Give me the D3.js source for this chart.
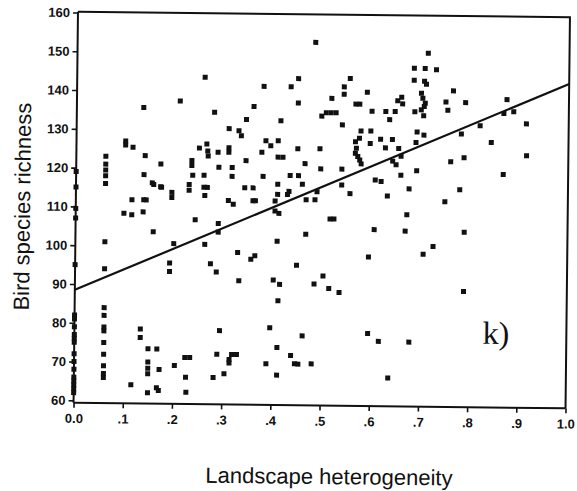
<!DOCTYPE html>
<html>
<head>
<meta charset="utf-8">
<script src="https://cdn.jsdelivr.net/npm/d3@7"></script>
<style>
  body { margin: 0; background: #fff; }
  svg { display: block; }
</style>
</head>
<body>
<svg id="chart" width="577" height="491"></svg>
<script>
// Landscape heterogeneity (x) and bird species richness (y) per site
const heterogeneity = [
  0,0,0,0,0,0,0,0,0,0,0,0,0,0,0,0,0,0,0,
  0.06,0.06,0.06,0.06,0.06,0.06,0.06,0.06,0.06,0.06,0.06,0.06,0.06,0.06,0.06,0.06,
  0.10,0.10,0.115,0.136,0.14,0.138,0.155,0.172,0.172,0.195,0.195,0.21,0.235,0.235,0.237,0.23,0.23,0.25,0.26,0.265,
  0.267,0.268,0.26,0.26,0.267,0.28,0.288,0.29,0.31,0.31,0.31,0.317,0.317,0.33,0.335,0.345,0.345,0.343,0.36,0.36,
  0.38,0.38,0.377,0.385,0.395,0.41,0.415,0.41,0.42,0.41,0.41,0.43,0.435,0.45,0.45,0.45,
  0.484,0.495,0.465,0.497,0.435,0.452,0.46,0.433,0.49,0.468,0.486,0.54,0.54,0.557,0.608,0.62,0.633,0.498,0.507,0.517,
  0.527,0.518,0.543,0.543,0.555,0.54,0.567,0.575,0.59,0.6,0.578,0.598,0.575,0.567,0.569,0.567,0.572,0.576,0.579,0.597,
  0.618,0.628,0.642,0.655,0.628,0.647,0.636,0.652,0.66,0.662,0.643,0.65,0.66,0.66,0.685,0.707,0.685,0.706,0.71,0.70,
  0.703,0.708,0.706,0.70,0.687,0.705,0.692,0.706,0.69,0.713,0.73,0.765,0.75,0.754,0.79,0.782,0.82,0.843,0.761,0.788,
  0.874,0.868,0.888,0.914,0.915,0.868,0.78,0.692,0.677,
  0.114,0.138,0.143,0.098,0.114,0.137,0.158,0.174,0.262,0.243,0.158,0.2,0.192,0.192,0.263,0.275,0.287,0.29,0.29,0.31,
  0.32,0.36,0.365,0.333,0.33,0.357,0.365,0.405,0.405,0.413,0.41,0.403,0.416,0.413,0.45,0.397,0.412,0.412,0.44,0.448,
  0.39,0.33,0.315,0.315,0.32,0.29,0.295,0.305,0.283,0.225,0.235,0.227,0.228,0.204,0.173,0.15,0.15,0.15,0.15,0.168,
  0.134,0.134,0.116,0.15,0.168,0.172,
  0.673,0.67,0.75,0.79,0.517,0.525,0.468,0.607,0.596,0.707,0.727,0.486,0.504,0.516,0.537,0.79,0.463,0.455,0.482,0.596,
  0.618,0.68,0.638
];
const richness = [
  119,115,109.5,107,95,82,81,79,77,76,75,72,70,68,66,65,64,63,62,
  123,121,119.5,118,116,101,94,84,82,79,78,75,72,69,67,66,
  127,126,125.4,135.7,123.3,118.4,116.3,121.2,115.3,113.9,112.6,137.5,122.2,120.9,118.4,116,114.5,125.4,143.7,126.5,
  124.7,123.4,118.4,115.3,115.3,134.7,124.4,120.5,130.5,125.6,124.4,120.5,118.2,130,128.7,132.9,122.3,115.3,115.3,136.3,
  141.5,118.3,124.5,127.5,126.2,127.5,132.7,123.3,123.3,116.3,113.7,113.7,141.5,143.6,125.5,137.3,
  153,125.6,121.7,120.4,118.6,118.6,116.4,114.5,114.5,112.4,112.4,120.4,116.3,114.1,117.7,117.3,113.6,134,134.9,134.9,
  134.9,138.6,139.7,141.6,143.8,131.8,137.2,137.2,140.3,135.4,130.3,130.3,128.4,127.5,125.8,124.5,123.7,122.8,121.8,127.1,
  128.2,126,128.2,125.9,135.4,135.4,133.3,138.2,139.1,137.4,122.6,121.7,123.9,119,146.6,146.6,143.5,143.3,142.5,140.2,
  138.9,137.6,136.8,135.9,135.4,134.4,130.2,129.4,127.5,150.5,146.3,140.9,138,135.9,137.9,129.8,132,127.7,122.6,123.7,
  138.8,135.2,135.7,132.6,124.4,119.5,115.4,120.2,115.5,
  111.9,111.9,111.9,108.4,108,108.8,115.9,115.2,113.2,106.9,103.7,100.7,95.7,93.5,100.6,95.6,93.5,106,103.8,112,
  111,112,112,91.3,98.6,96.9,97.8,112,109.4,108.8,101.6,91.6,90.5,86.3,95.5,79.3,74.2,67.1,72.2,70.1,
  70,72.3,71,70.1,72.3,72.3,78.4,67.3,66.3,71.4,71.4,66.3,62.4,69.3,68.2,70.1,68.5,67.1,73.5,73.5,
  78.6,76.4,64.2,62.2,63.5,62.8,
  108.8,104.6,112.3,104.5,107.5,107.5,103.5,104.9,97.8,98.7,100.7,90.7,92.8,89.6,88.6,89.2,77.3,70,70.1,78.1,
  76.1,76,66.7
];

// Fitted regression line, given by its values at both ends of the x range
const fitX = [0, 1];
const fitY = [88.5, 143];

const xTicks = [0, 0.1, 0.2, 0.3, 0.4, 0.5, 0.6, 0.7, 0.8, 0.9, 1.0];
const xTickLabels = ["0.0", ".1", ".2", ".3", ".4", ".5", ".6", ".7", ".8", ".9", "1.0"];
const yTicks = [60, 70, 80, 90, 100, 110, 120, 130, 140, 150, 160];

const xTitle = "Landscape heterogeneity";
const yTitle = "Bird species richness";
const panelTag = "k)";

(function draw() {
  // Plot frame
  const plotLeft = 75.75, plotTop = 14.5, plotW = 492, plotH = 391;
  const tilt = 0.65; // the printed page sits slightly askew

  const svg = d3.select("#chart");
  const root = svg.append("g")
    .attr("transform", `rotate(${tilt}, ${plotLeft + plotW / 2}, ${plotTop + plotH / 2})`);

  const x = d3.scaleLinear().domain([0, 1]).range([plotLeft, plotLeft + plotW]);
  const y = d3.scaleLinear().domain([59.4, 160.2]).range([plotTop + plotH, plotTop]);

  const ink = "#111";
  const sans = "'Liberation Sans', Arial, Helvetica, sans-serif";

  // Frame: top and right edges
  root.append("path")
    .attr("d", `M${plotLeft},${plotTop}H${plotLeft + plotW}V${plotTop + plotH}`)
    .attr("fill", "none").attr("stroke", ink).attr("stroke-width", 2);

  // Axes
  const xAxis = d3.axisBottom(x).tickValues(xTicks)
    .tickFormat((d, i) => xTickLabels[i]).tickSizeOuter(0).tickSize(5).tickPadding(6);
  const yAxis = d3.axisLeft(y).tickValues(yTicks).tickSizeOuter(0).tickSize(5).tickPadding(3);

  const gx = root.append("g").attr("transform", `translate(0,${plotTop + plotH})`).call(xAxis);
  const gy = root.append("g").attr("transform", `translate(${plotLeft},0)`).call(yAxis);

  [gx, gy].forEach(g => {
    g.select(".domain").attr("stroke", ink).attr("stroke-width", 2);
    g.selectAll(".tick line").attr("stroke", ink).attr("stroke-width", 1.6);
    g.selectAll(".tick text")
      .attr("fill", ink)
      .attr("font-family", sans)
      .attr("font-weight", "bold")
      .attr("font-size", 13);
  });
  gy.select(".domain").attr("d", `M0,${plotTop + plotH}V${plotTop}`);
  gx.select(".domain").attr("d", `M${plotLeft},0H${plotLeft + plotW}`);

  // Regression line
  root.append("line")
    .attr("x1", x(fitX[0])).attr("y1", y(fitY[0]))
    .attr("x2", x(fitX[1])).attr("y2", y(fitY[1]))
    .attr("stroke", ink).attr("stroke-width", 2.2);

  // Site markers
  const size = 5;
  root.append("g").selectAll("rect")
    .data(d3.range(heterogeneity.length))
    .join("rect")
    .attr("x", i => x(heterogeneity[i]) - size / 2)
    .attr("y", i => y(richness[i]) - size / 2)
    .attr("width", size).attr("height", size)
    .attr("fill", ink);

  // Panel tag
  root.append("text")
    .attr("x", 484).attr("y", 342)
    .attr("font-family", "'Liberation Serif', 'Times New Roman', serif")
    .attr("font-size", 32)
    .attr("fill", ink)
    .text(panelTag);

  // Axis titles
  root.append("text")
    .attr("x", 332).attr("y", 484)
    .attr("text-anchor", "middle")
    .attr("font-family", sans)
    .attr("font-size", 22)
    .attr("fill", ink)
    .text(xTitle);

  root.append("text")
    .attr("transform", "translate(30,210) rotate(-90)")
    .attr("text-anchor", "middle")
    .attr("font-family", sans)
    .attr("font-size", 22)
    .attr("fill", ink)
    .text(yTitle);
})();
</script>
</body>
</html>
